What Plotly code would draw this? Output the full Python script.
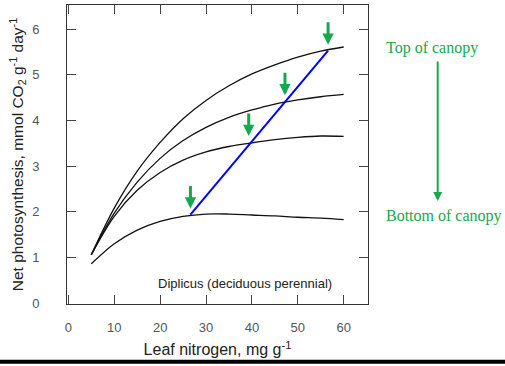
import plotly.graph_objects as go

# ---- data ----
nitrogen = [5, 10, 15, 20, 25, 30, 35, 40, 45, 50, 55, 60]
canopy_top = [1.06, 2.08, 2.89, 3.52, 4.04, 4.44, 4.76, 5.02, 5.22, 5.39, 5.52, 5.61]
canopy_upper = [1.06, 1.97, 2.65, 3.17, 3.56, 3.85, 4.07, 4.23, 4.36, 4.45, 4.52, 4.57]
canopy_lower = [1.06, 1.90, 2.47, 2.86, 3.13, 3.31, 3.43, 3.51, 3.58, 3.63, 3.66, 3.65]
canopy_bottom = [0.86, 1.30, 1.60, 1.79, 1.90, 1.95, 1.95, 1.93, 1.91, 1.88, 1.86, 1.83]

optimum_n = [26.6, 39.3, 47.2, 56.6]
optimum_a = [1.94, 3.53, 4.42, 5.53]

x_ticks = [0, 10, 20, 30, 40, 50, 60]
y_ticks = [0, 1, 2, 3, 4, 5, 6]

GREEN = "#16a84e"
SANS = "Liberation Sans, Arial, sans-serif"
SERIF = "Liberation Serif, Times New Roman, serif"

fig = go.Figure()
for ys in (canopy_top, canopy_upper, canopy_lower, canopy_bottom):
    fig.add_trace(go.Scatter(x=nitrogen, y=ys, mode="lines",
                             line=dict(color="#111111", width=1.3, shape="spline"),
                             hoverinfo="skip", showlegend=False))

fig.add_trace(go.Scatter(x=[optimum_n[0], optimum_n[-1]], y=[optimum_a[0], optimum_a[-1]],
                         mode="lines", line=dict(color="#0000ff", width=2),
                         showlegend=False))

annotations = []
for xn, ya in zip(optimum_n, optimum_a):
    annotations.append(dict(x=xn, y=ya, xref="x", yref="y", text="",
                            showarrow=True, ax=0, ay=-30, axref="pixel", ayref="pixel",
                            arrowhead=2, arrowsize=0.75, arrowwidth=3,
                            arrowcolor=GREEN, standoff=6))

annotations.append(dict(x=38.5, y=0.42, xref="x", yref="y", text="Diplicus (deciduous perennial)",
                        showarrow=False, xanchor="center", yanchor="middle",
                        font=dict(family=SANS, size=13, color="#222222")))

# right-hand canopy legend
annotations.append(dict(x=(384 - 67) / 301, y=(304 - 48) / 299, xref="paper", yref="paper",
                        text="Top of canopy", showarrow=False, xanchor="left", yanchor="middle",
                        font=dict(family=SERIF, size=16, color=GREEN)))
annotations.append(dict(x=(384 - 67) / 301, y=(304 - 216) / 299, xref="paper", yref="paper",
                        text="Bottom of canopy", showarrow=False, xanchor="left", yanchor="middle",
                        font=dict(family=SERIF, size=16, color=GREEN)))
annotations.append(dict(x=(437.7 - 67) / 301, y=(304 - 201) / 299, xref="paper", yref="paper",
                        text="", showarrow=True, ax=0, ay=-141, axref="pixel", ayref="pixel",
                        arrowhead=2, arrowsize=0.9, arrowwidth=2, arrowcolor=GREEN))

axis_common = dict(showline=True, linecolor="#333333", linewidth=1, mirror="ticks",
                   ticks="inside", ticklen=9, tickcolor="#444444", tickwidth=1,
                   showgrid=False, zeroline=False,
                   tickfont=dict(family=SANS, size=13, color="#555555"))

fig.update_layout(
    width=505, height=366,
    margin=dict(l=67, r=137, t=5, b=62),
    paper_bgcolor="white", plot_bgcolor="white",
    xaxis=dict(range=[-0.3, 65.3], tickvals=x_ticks, ticklabelstandoff=11,
               title=dict(text="Leaf nitrogen, mg g<sup>-1</sup>", standoff=10,
                          font=dict(family=SANS, size=16, color="#222222")),
               automargin=False, **axis_common),
    yaxis=dict(range=[-0.02, 6.53], tickvals=y_ticks, ticklabelstandoff=24,
               title=dict(text="Net photosynthesis, mmol CO<sub>2</sub> g<sup>-1</sup> day<sup>-1</sup>",
                          standoff=4, font=dict(family=SANS, size=15.5, color="#222222")),
               automargin=False, **axis_common),
    annotations=annotations,
    shapes=[dict(type="line", xref="paper", yref="paper",
                 x0=-67 / 301, x1=438 / 301, y0=(304 - 361.7) / 299, y1=(304 - 361.7) / 299,
                 line=dict(color="black", width=4))],
)

fig.write_html("out.html")
